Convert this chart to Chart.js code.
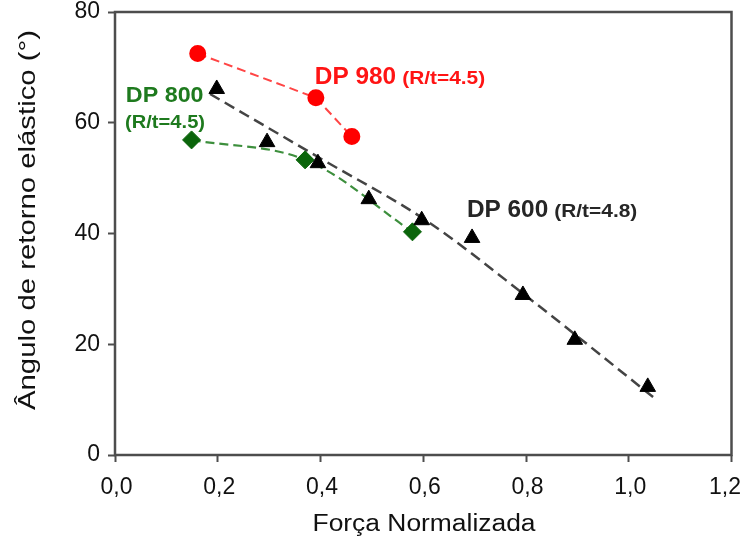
<!DOCTYPE html>
<html>
<head>
<meta charset="utf-8">
<script src="https://cdn.jsdelivr.net/npm/chart.js@4/dist/chart.umd.min.js"></script>
<style>
  html, body { margin: 0; padding: 0; background: #fff; }
  #wrap { width: 744px; height: 548px; }
</style>
</head>
<body>
<div id="wrap"><canvas id="springback"></canvas></div>
<script>
// values
const dp980Force = [0.161, 0.391, 0.461];
const dp980Angle = [72.5, 64.5, 57.5];

const dp800Force = [0.149, 0.370, 0.579];
const dp800Angle = [56.9, 53.3, 40.3];

const dp600Force = [0.198, 0.296, 0.395, 0.494, 0.597, 0.695, 0.794, 0.895, 1.037];
const dp600Angle = [66.1, 56.5, 52.7, 46.2, 42.4, 39.2, 28.9, 20.8, 12.3];

// dashed trend drawn through DP 600
const trendForce = [0.185, 0.401, 0.603, 0.806, 1.055];
const trendAngle = [65.2, 53.5, 42.5, 28.3, 9.9];

const xTicks = [0, 0.2, 0.4, 0.6, 0.8, 1.0, 1.2];
const yTicks = [0, 20, 40, 60, 80];

const xTitle = 'Força Normalizada';
const yTitle = 'Ângulo de retorno elástico (°)';

const FONT = "'Liberation Sans', Arial, sans-serif";

function pts(xs, ys) {
  return xs.map((x, i) => ({ x: x, y: ys[i] }));
}

// labels next to each curve, anchored in data units
const notes = [
  { x: 0.389, y: 67.0, main: 'DP 980', size: 23, sub: '(R/t=4.5)', subSize: 19, color: '#ff1414' },
  { x: 0.685, y: 42.9, main: 'DP 600', size: 23, sub: '(R/t=4.8)', subSize: 19, color: '#262626' },
  { x: 0.021, y: 63.8, main: 'DP 800', size: 22, color: '#1e7a1e' },
  { x: 0.0195, y: 59.1, main: '(R/t=4.5)', size: 19, color: '#1e7a1e' }
];

// draws text stretched by a horizontal factor, returns drawn width
function wideText(ctx, text, x, y, stretch) {
  ctx.save();
  ctx.translate(x, y);
  ctx.scale(stretch, 1);
  ctx.fillText(text, 0, 0);
  const w = ctx.measureText(text).width * stretch;
  ctx.restore();
  return w;
}

const frameAndNotes = {
  id: 'frameAndNotes',
  afterDatasetsDraw(chart) {
    const ctx = chart.ctx;
    const sx = chart.scales.x, sy = chart.scales.y;
    const left = sx.getPixelForValue(sx.min), right = sx.getPixelForValue(sx.max);
    const top = sy.getPixelForValue(sy.max), bottom = sy.getPixelForValue(sy.min);
    const W = chart.width;
    ctx.save();
    ctx.strokeStyle = '#4d4d4d';
    ctx.lineWidth = 2.5;
    ctx.strokeRect(left, top, right - left, bottom - top);

    ctx.textBaseline = 'alphabetic';
    ctx.textAlign = 'left';
    notes.forEach(n => {
      const px = sx.getPixelForValue(n.x);
      const py = sy.getPixelForValue(n.y);
      ctx.fillStyle = n.color;
      ctx.font = 'bold ' + n.size + 'px ' + FONT;
      const w = wideText(ctx, n.main, px, py, 1.06);
      if (n.sub) {
        ctx.font = 'bold ' + n.subSize + 'px ' + FONT;
        wideText(ctx, n.sub, px + w + 6, py, 1.1);
      }
    });

    // x tick labels, the last one kept inside the canvas
    ctx.fillStyle = '#111';
    ctx.font = '23px ' + FONT;
    ctx.textBaseline = 'middle';
    xTicks.forEach(v => {
      const label = v.toFixed(1).replace('.', ',');
      const w = ctx.measureText(label).width;
      const px = sx.getPixelForValue(v);
      const x0 = Math.min(px - w / 2 + 1.5, W - 3 - w);
      ctx.fillText(label, x0, bottom + 33);
    });

    // axis titles
    ctx.textAlign = 'center';
    const xw = ctx.measureText(xTitle).width;
    ctx.save();
    ctx.translate(424, 525);
    ctx.scale(223 / xw, 1);
    ctx.fillText(xTitle, 0, 0);
    ctx.restore();

    ctx.font = '24px ' + FONT;
    const yw = ctx.measureText(yTitle).width;
    ctx.save();
    ctx.translate(28, 220);
    ctx.rotate(-Math.PI / 2);
    ctx.scale(380 / yw, 1);
    ctx.fillText(yTitle, 0, 0);
    ctx.restore();

    ctx.restore();
  }
};

const ctx = document.getElementById('springback').getContext('2d');
new Chart(ctx, {
  type: 'scatter',
  data: {
    datasets: [
      {
        label: 'DP 600',
        data: pts(dp600Force, dp600Angle),
        showLine: false,
        pointStyle: 'triangle',
        pointRadius: 9,
        pointBackgroundColor: '#000',
        pointBorderColor: '#000',
        pointBorderWidth: 1,
        order: 1
      },
      {
        label: 'DP 980',
        data: pts(dp980Force, dp980Angle),
        showLine: true,
        borderColor: '#ff4545',
        borderWidth: 2,
        borderDash: [9, 5],
        pointStyle: 'circle',
        pointRadius: 7.5,
        pointBackgroundColor: '#ff0000',
        pointBorderColor: '#ff0000',
        order: 2
      },
      {
        label: 'DP 800',
        data: pts(dp800Force, dp800Angle),
        showLine: true,
        tension: 0.35,
        borderColor: '#3d8f3d',
        borderWidth: 2.2,
        borderDash: [9, 5],
        pointStyle: 'rectRot',
        pointRadius: 9,
        pointBackgroundColor: '#0b650b',
        pointBorderColor: '#0b650b',
        pointBorderWidth: 1,
        order: 3
      },
      {
        label: 'DP 600 trend',
        data: pts(trendForce, trendAngle),
        showLine: true,
        cubicInterpolationMode: 'monotone',
        borderColor: '#444',
        borderWidth: 2.5,
        borderDash: [11, 6],
        pointRadius: 0,
        order: 4
      }
    ]
  },
  options: {
    responsive: true,
    maintainAspectRatio: false,
    animation: false,
    layout: { padding: { top: 12, right: 12.5, left: 0, bottom: 0 } },
    plugins: {
      legend: { display: false },
      tooltip: { enabled: false }
    },
    scales: {
      x: {
        type: 'linear',
        min: 0,
        max: 1.2,
        afterFit(scale) {
          scale.height = 93;
          scale.paddingLeft = 0;
          scale.paddingRight = 0;
        },
        afterBuildTicks(scale) { scale.ticks = xTicks.map(v => ({ value: v })); },
        border: { display: false },
        grid: { drawOnChartArea: false, drawTicks: true, tickLength: 7, tickWidth: 2, tickColor: '#4d4d4d' },
        ticks: { display: false },
        title: { display: false }
      },
      y: {
        type: 'linear',
        min: 0,
        max: 80,
        afterFit(scale) {
          scale.width = 115;
          scale.paddingTop = 0;
          scale.paddingBottom = 0;
        },
        afterBuildTicks(scale) { scale.ticks = yTicks.map(v => ({ value: v })); },
        border: { display: false },
        grid: { drawOnChartArea: false, drawTicks: true, tickLength: 7, tickWidth: 2, tickColor: '#4d4d4d' },
        ticks: {
          padding: 8,
          color: '#111',
          font: { family: FONT, size: 23 },
          callback: v => String(v)
        },
        title: { display: false }
      }
    }
  },
  plugins: [frameAndNotes]
});
</script>
</body>
</html>
